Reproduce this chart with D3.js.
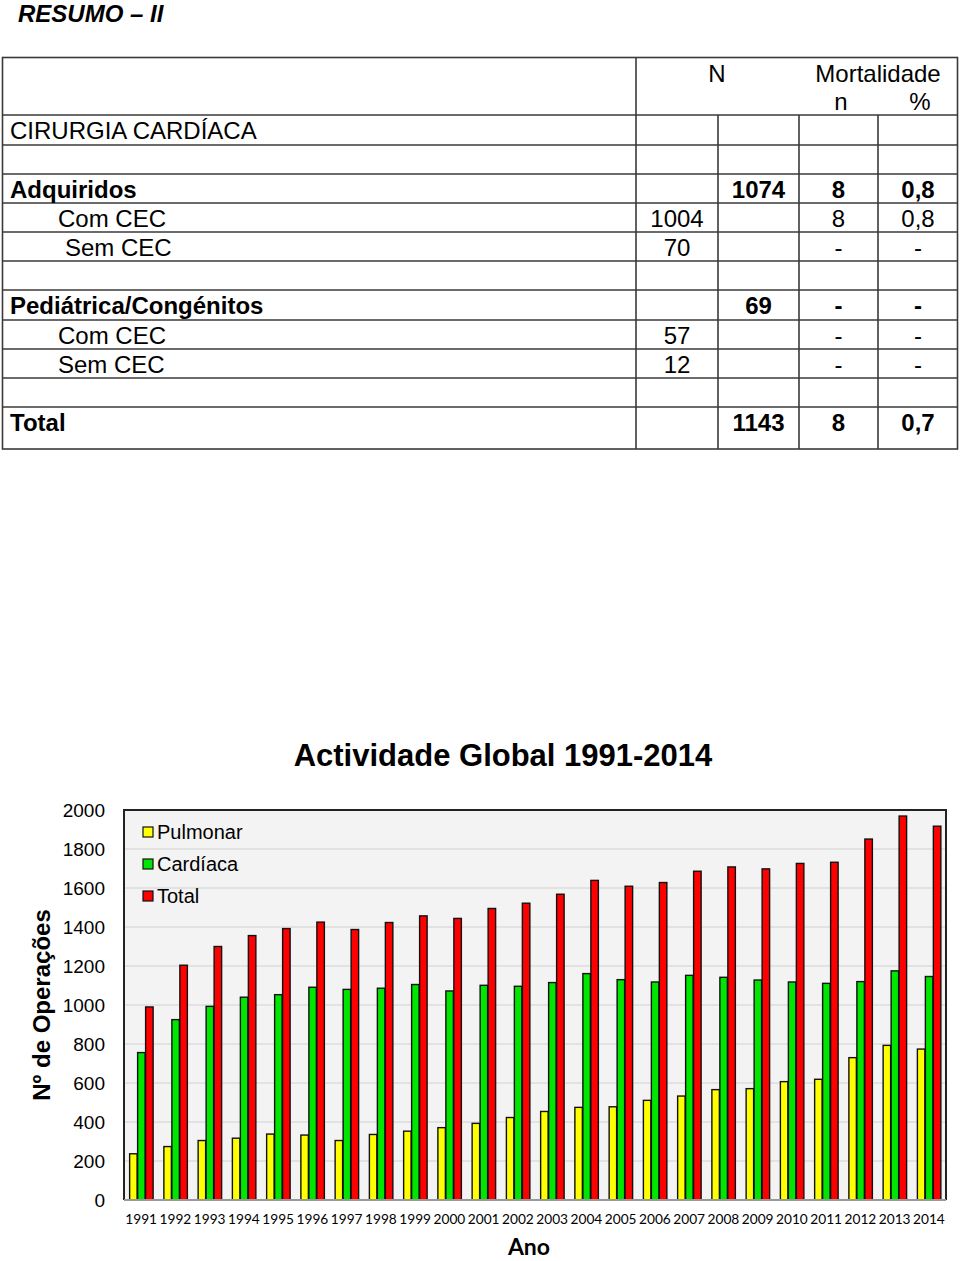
<!DOCTYPE html>
<html><head><meta charset="utf-8">
<script src="https://cdn.jsdelivr.net/npm/d3@7"></script>
<style>body{margin:0;background:#fff}svg{display:block}</style>
</head><body>
<svg id="c" width="960" height="1261"></svg>
<script>
// ---------- table data ----------
const rowLabels = ["CIRURGIA CARDÍACA", "", "Adquiridos", "Com CEC", "Sem CEC", "", "Pediátrica/Congénitos", "Com CEC", "Sem CEC", "", "Total"];
const rowBold   = [false, false, true, false, false, false, true, false, false, false, true];
const subN      = ["", "", "", "1004", "70", "", "", "57", "12", "", ""];
const groupN    = ["", "", "1074", "", "", "", "69", "", "", "", "1143"];
const mortN     = ["", "", "8", "8", "-", "", "-", "-", "-", "", "8"];
const mortPct   = ["", "", "0,8", "0,8", "-", "", "-", "-", "-", "", "0,7"];

// ---------- chart data ----------
const years = ["1991","1992","1993","1994","1995","1996","1997","1998","1999","2000","2001","2002","2003","2004","2005","2006","2007","2008","2009","2010","2011","2012","2013","2014"];
const pulmonar = [237,274,305,317,338,333,305,336,353,371,393,423,454,475,478,511,533,566,571,607,619,730,793,774];
const cardiaca = [756,925,993,1040,1053,1091,1080,1086,1105,1072,1101,1096,1115,1161,1130,1118,1152,1142,1128,1118,1111,1120,1175,1146];
const total    = [990,1204,1300,1356,1392,1425,1387,1423,1457,1444,1495,1522,1568,1639,1609,1628,1686,1708,1698,1726,1732,1851,1969,1917];
const seriesNames = ["Pulmonar","Cardíaca","Total"];
const yTicks = [0,200,400,600,800,1000,1200,1400,1600,1800,2000];

const colors = {"Pulmonar":"#ffff00","Cardíaca":"#00e600","Total":"#ff0000"};
const svg = d3.select("#c");
const AR = "'Liberation Sans', Arial, sans-serif";

// title
svg.append("text").attr("x",18).attr("y",22).attr("font-family",AR).attr("font-size",24)
  .attr("font-weight","bold").attr("font-style","italic").text("RESUMO – II");

// ---------- table ----------
const rowTops = [115,145,174,203,232,261,290,320,349,378,407,449];
const tg = svg.append("g").attr("stroke","#3a3a3a").attr("stroke-width",1.6);
tg.append("rect").attr("x",2.5).attr("y",57.5).attr("width",955).attr("height",391.5).attr("fill","none");
rowTops.slice(0,-1).forEach(y=>tg.append("line").attr("x1",2.5).attr("x2",957.5).attr("y1",y).attr("y2",y));
tg.append("line").attr("x1",636).attr("x2",636).attr("y1",57.5).attr("y2",449);
[718,799,878].forEach(x=>tg.append("line").attr("x1",x).attr("x2",x).attr("y1",115).attr("y2",449));

const tt = svg.append("g").attr("font-family",AR).attr("font-size",24).attr("fill","#000");
tt.append("text").attr("x",717).attr("y",82).attr("text-anchor","middle").text("N");
tt.append("text").attr("x",878).attr("y",82).attr("text-anchor","middle").text("Mortalidade");
tt.append("text").attr("x",841).attr("y",110).attr("text-anchor","middle").text("n");
tt.append("text").attr("x",920).attr("y",110).attr("text-anchor","middle").text("%");
const indent = [10,10,10,58,65,10,10,58,58,10,10];
rowLabels.forEach((lab,i)=>{
  const y = rowTops[i]+24;
  const w = rowBold[i] ? "bold" : "normal";
  if(lab) tt.append("text").attr("x",indent[i]).attr("y",y).attr("font-weight",w).text(lab);
  const cells = [[subN[i],677],[groupN[i],758.5],[mortN[i],838.5],[mortPct[i],918]];
  cells.forEach(([v,cx])=>{ if(v) tt.append("text").attr("x",cx).attr("y",y).attr("text-anchor","middle").attr("font-weight",w).text(v); });
});

// ---------- chart ----------
svg.append("text").attr("x",503).attr("y",766).attr("text-anchor","middle").attr("font-family",AR)
  .attr("font-size",31).attr("font-weight","bold").text("Actividade Global 1991-2014");

const L=124, R=946, T=810, B=1200;
const y = d3.scaleLinear().domain([0,2000]).range([B,T]);
const x0 = d3.scaleBand().domain(years).range([L,R]).paddingInner(0.3).paddingOuter(0.15);
const x1 = d3.scaleBand().domain(seriesNames).range([0,x0.bandwidth()]);

svg.append("rect").attr("x",L).attr("y",T).attr("width",R-L).attr("height",B-T).attr("fill","#f3f3f3");
svg.append("g").selectAll("line").data(yTicks.filter(v=>v>0&&v<2000)).join("line")
  .attr("x1",L).attr("x2",R).attr("y1",d=>y(d)).attr("y2",d=>y(d)).attr("stroke","#dcdcdc").attr("stroke-width",1.5);

const yAxis = svg.append("g").attr("transform",`translate(${L},0)`)
  .call(d3.axisLeft(y).tickValues(yTicks).tickFormat(d3.format("d")).tickSize(0).tickPadding(19));
yAxis.select(".domain").remove();
yAxis.selectAll("text").attr("font-family",AR).attr("font-size",19).attr("fill","#000");

const data = years.map((yr,i)=>({year:yr, vals:[pulmonar[i],cardiaca[i],total[i]]}));
const grp = svg.append("g").selectAll("g").data(data).join("g").attr("transform",d=>`translate(${x0(d.year)},0)`);
grp.selectAll("rect").data(d=>d.vals.map((v,k)=>({name:seriesNames[k],v}))).join("rect")
  .attr("x",d=>x1(d.name)+0.5).attr("width",x1.bandwidth()-0.5)
  .attr("y",d=>y(d.v)).attr("height",d=>B-y(d.v))
  .attr("fill",d=>colors[d.name]).attr("stroke","#111").attr("stroke-width",1.4);

// frame
svg.append("path").attr("d",`M${L},${B}V${T}H${R}V${B}`).attr("fill","none").attr("stroke","#222").attr("stroke-width",2);
svg.append("line").attr("x1",L).attr("x2",R).attr("y1",B).attr("y2",B).attr("stroke","#999").attr("stroke-width",2);

const xAxis = svg.append("g").attr("transform",`translate(0,${B})`)
  .call(d3.axisBottom(x0).tickSize(0).tickPadding(14));
xAxis.select(".domain").remove();
xAxis.selectAll("text").attr("font-family","Lato, sans-serif").attr("font-size",13.7).attr("fill","#000");

svg.append("text").attr("x",529).attr("y",1255).attr("text-anchor","middle").attr("font-family","Lato, sans-serif")
  .attr("font-size",23).attr("font-weight","bold").text("Ano");
svg.append("text").attr("transform","translate(50,1005) rotate(-90)").attr("text-anchor","middle")
  .attr("font-family",AR).attr("font-size",24).attr("font-weight","bold").text("Nº de Operações");

// legend
const lg = svg.append("g").selectAll("g").data(seriesNames).join("g")
  .attr("transform",(d,i)=>`translate(143,${832+i*32})`);
lg.append("rect").attr("x",0).attr("y",-5).attr("width",10).attr("height",10)
  .attr("fill",d=>colors[d]).attr("stroke","#111").attr("stroke-width",1.2);
lg.append("text").attr("x",14).attr("y",7).attr("font-family",AR).attr("font-size",20).text(d=>d);
</script>
</body></html>
